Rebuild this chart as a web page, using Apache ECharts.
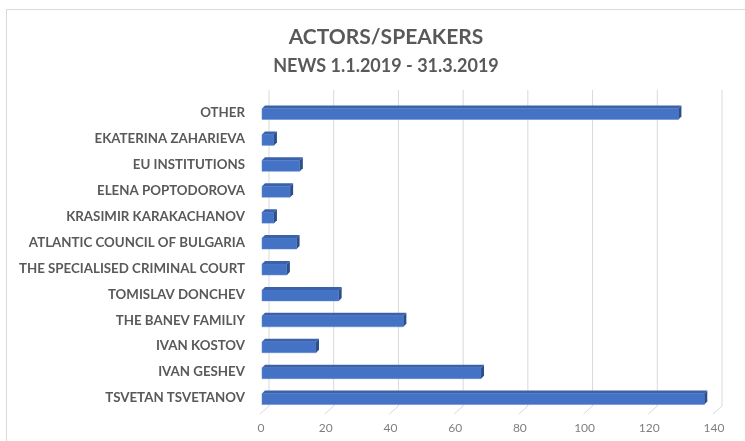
<!DOCTYPE html>
<html>
<head>
<meta charset="utf-8">
<script src="https://cdn.jsdelivr.net/npm/echarts@6/dist/echarts.min.js"></script>
<style>
  html, body { margin: 0; padding: 0; background: #fff; }
  #chart { width: 745px; height: 441px; }
</style>
</head>
<body>
<div id="chart"></div>
<script>
// categories bottom -> top
var actors = [
  'TSVETAN TSVETANOV', 'IVAN GESHEV', 'IVAN KOSTOV', 'THE BANEV FAMILIY',
  'TOMISLAV DONCHEV', 'THE SPECIALISED CRIMINAL COURT', 'ATLANTIC COUNCIL OF BULGARIA',
  'KRASIMIR KARAKACHANOV', 'ELENA POPTODOROVA', 'EU INSTITUTIONS',
  'EKATERINA ZAHARIEVA', 'OTHER'
];
var mentions = [137, 68, 17, 44, 24, 8, 11, 4, 9, 12, 4, 129];
var xTicks = [0, 20, 40, 60, 80, 100, 120, 140];

var chart = echarts.init(document.getElementById('chart'));

// back wall gridlines + floor slant, 3d look like excel
function renderWall(params, api) {
  var cs = params.coordSys;
  var p = api.coord([api.value(0), 0]);
  var bx = p[0] + 8;
  var bottom = cs.y + cs.height;
  return {
    type: 'polyline',
    shape: { points: [[bx, cs.y - 10], [bx, bottom - 5], [p[0] - 1, bottom + 3]] },
    style: { stroke: '#d9d9d9', lineWidth: 1, fill: null }
  };
}

function renderBar(params, api) {
  var idx = api.value(1);
  var start = api.coord([0, idx]);
  var end = api.coord([api.value(0), idx]);
  var h = 11, d = 3;
  var x0 = start[0] + 1, x1 = end[0];
  var yTop = start[1] - h / 2 + 1, yBot = yTop + h;
  return {
    type: 'group',
    children: [
      { type: 'rect', shape: { x: x0, y: yTop, width: x1 - x0, height: h },
        style: { fill: '#4472C4', stroke: '#5b86d4', lineWidth: 0.5 } },
      { type: 'polygon', shape: { points: [[x0, yTop], [x0 + d, yTop - d], [x1 + d, yTop - d], [x1, yTop]] },
        style: { fill: '#3a62ab' } },
      { type: 'polygon', shape: { points: [[x1, yTop], [x1 + d, yTop - d], [x1 + d, yBot - d], [x1, yBot]] },
        style: { fill: '#2c4f8c' } }
    ]
  };
}

var option = {
  backgroundColor: '#fff',
  animation: false,
  title: {
    text: 'ACTORS/SPEAKERS',
    subtext: 'NEWS 1.1.2019 - 31.3.2019',
    left: 381,
    textAlign: 'center',
    top: 22,
    itemGap: 9,
    textStyle: { fontFamily: 'Lato', fontWeight: 'bold', fontSize: 21, color: '#595959' },
    subtextStyle: { fontFamily: 'Lato', fontWeight: 'bold', fontSize: 18, color: '#595959' }
  },
  graphic: [{
    type: 'rect',
    shape: { x: 6.5, y: 9.5, width: 800, height: 500 },
    style: { fill: null, stroke: '#d9d9d9', lineWidth: 1 },
    silent: true
  }],
  grid: { left: 261, right: 31, top: 100, bottom: 30, containLabel: false },
  xAxis: {
    type: 'value',
    min: 0, max: 140, interval: 20,
    axisLine: { show: false },
    axisTick: { show: false },
    splitLine: { show: false },
    axisLabel: { color: '#7f7f7f', fontFamily: 'Lato', fontSize: 12, margin: 11 }
  },
  yAxis: {
    type: 'category',
    data: actors,
    axisLine: { show: false },
    axisTick: { show: false },
    axisLabel: { color: '#595959', fontFamily: 'Lato', fontWeight: 'bold', fontSize: 13.3, margin: 16 }
  },
  series: [
    {
      type: 'custom',
      renderItem: renderWall,
      data: xTicks.map(function (t) { return [t]; }),
      silent: true,
      z: 1
    },
    {
      type: 'custom',
      renderItem: renderBar,
      encode: { x: 0, y: 1 },
      data: mentions.map(function (v, i) { return [v, i]; }),
      z: 2
    }
  ]
};
chart.setOption(option);
</script>
</body>
</html>
